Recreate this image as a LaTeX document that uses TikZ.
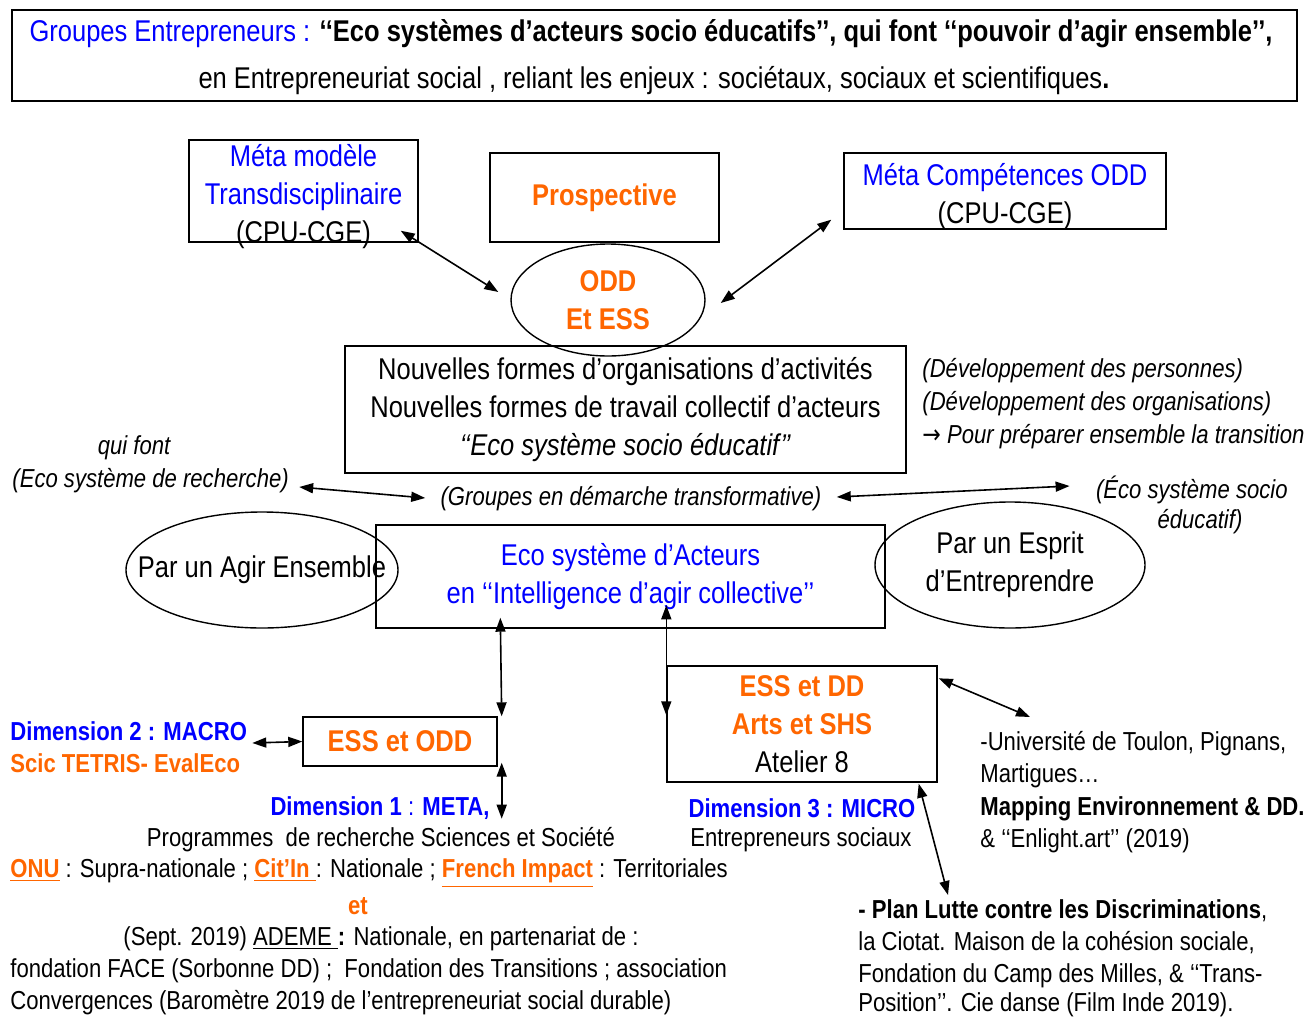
\documentclass[tikz,border=0pt]{standalone}
\usepackage{fontspec}
\setmainfont{Liberation Sans}[FakeStretch=0.85]
\newfontfamily\flechefont{DejaVu Sans}[FakeStretch=0.85]
\usetikzlibrary{arrows.meta,shapes.geometric}
\definecolor{odorange}{RGB}{255,102,0}
\definecolor{odblue}{RGB}{0,0,255}
\newcommand\grand{\fontsize{15}{19}\selectfont}
\newcommand\moyen{\fontsize{13}{16.5}\selectfont}
\newcommand\orng[1]{\textcolor{odorange}{\bfseries #1}}
\begin{document}
\begin{tikzpicture}[x=0.5pt,y=-0.5pt,
  cadre/.style={draw,line width=0.7pt,inner sep=0pt,align=center,font=\grand},
  bulle/.style={draw,ellipse,line width=0.7pt,inner sep=0pt,align=center,font=\grand},
  txt/.style={inner sep=0pt,font=\moyen},
  lien/.style={line width=0.8pt,{Triangle[length=7pt,width=5pt]}-{Triangle[length=7pt,width=5pt]}}]
\useasboundingbox (0,0) rectangle (1306,1017);

% titre
\node[cadre,minimum width=642.5pt,minimum height=45.5pt] (titre) at (654.5,55.5) {};
\node[txt,font=\fontsize{15}{20}\selectfont] (titre1) at (651,34)
  {\textcolor{odblue}{Groupes Entrepreneurs : }\textbf{‘‘Eco systèmes d’acteurs socio éducatifs’’, qui font ‘‘pouvoir d’agir ensemble’’,}};
\node[txt,font=\fontsize{15}{20}\selectfont] (titre2) at (654,81)
  {en Entrepreneuriat social , reliant les enjeux : sociétaux, sociaux et scientifiques\textbf{.}};

% haut
\node[cadre,minimum width=114.5pt,minimum height=51pt] (meta) at (303.5,191) {};
\node[inner sep=0pt,align=center,font=\grand] (metatxt) at (303.5,196.5)
  {\textcolor{odblue}{Méta modèle}\\\textcolor{odblue}{Transdisciplinaire}\\(CPU-CGE)};
\node[cadre,minimum width=114.5pt,minimum height=44.5pt] (prosp) at (604.5,197.5)
  {\orng{Prospective}};
\node[cadre,minimum width=161pt,minimum height=38pt] (compet) at (1005,191) {};
\node[inner sep=0pt,align=center,font=\grand] (compettxt) at (1005,196.5)
  {\textcolor{odblue}{Méta Compétences ODD}\\(CPU-CGE)};
\node[bulle,minimum width=97pt,minimum height=56pt] (odd) at (608,300)
  {\orng{ODD}\\\orng{Et ESS}};
\node[cadre,minimum width=280.5pt,minimum height=63.5pt] (formes) at (625.5,409.5)
  {Nouvelles formes d’organisations d’activités\\Nouvelles formes de travail collectif d’acteurs\\\textit{‘‘Eco système socio éducatif’’}};

\node[txt,anchor=west] (perso) at (922,371) {\itshape (Développement des personnes)};
\node[txt,anchor=west] (orga) at (922,404) {\itshape (Développement des organisations)};
\node[txt,anchor=west] (trans) at (922,437) {\itshape{\flechefont →} Pour préparer ensemble la transition};

\node[txt] (quifont) at (134,448) {\itshape qui font};
\node[txt,anchor=west] (recherche) at (12,481) {\itshape (Eco système de recherche)};
\node[txt] (groupes) at (631,499) {\itshape (Groupes en démarche transformative)};
\node[txt,anchor=east] (socio) at (1288,490) {\itshape (Éco système socio};
\node[txt] (socio2) at (1200,522) {\itshape éducatif)};

% milieu
\node[cadre,minimum width=254.5pt,minimum height=51.5pt] (eco) at (630.5,576.5)
  {\textcolor{odblue}{Eco système d’Acteurs}\\\textcolor{odblue}{en ‘‘Intelligence d’agir collective’’}};
\node[bulle,minimum width=136pt,minimum height=58pt] (agir) at (262,570) {};
\node[inner sep=0pt,font=\grand] (agirtxt) at (agir.center) {Par un Agir Ensemble};
\node[bulle,minimum width=135pt,minimum height=63pt] (esprit) at (1010,565)
  {Par un Esprit\\d’Entreprendre};

% bas
\node[cadre,minimum width=97pt,minimum height=24.5pt] (essodd) at (400,741.5)
  {\orng{ESS et ODD}};
\node[cadre,minimum width=135pt,minimum height=58pt] (essdd) at (802,724)
  {\orng{ESS et DD}\\\orng{Arts et SHS}\\Atelier 8};

\node[txt,anchor=west] (dim2) at (10,731) {\textcolor{odblue}{\bfseries Dimension 2 : MACRO}};
\node[txt,anchor=west] (scic) at (10,763) {\orng{Scic TETRIS- EvalEco}};

\node[txt] (dim1) at (380,808) {\textcolor{odblue}{\textbf{Dimension 1} : \textbf{META,}}};
\node[txt] (prog) at (381,840) {Programmes~ de recherche Sciences et Société};
\node[txt,anchor=west] (onu) at (10,873)
  {\textcolor{odorange}{\bfseries\underline{ONU}} : Supra-nationale ; \textcolor{odorange}{\bfseries\underline{Cit’In }}: Nationale ; \textcolor{odorange}{\bfseries\underline{French Impact}} : Territoriales};
\node[txt] (et) at (358,906) {\orng{et}};
\node[txt] (ademe) at (381,939) {(Sept. 2019) \underline{ADEME }\textbf{:} Nationale, en partenariat de :};
\node[txt,anchor=west] (face) at (10,971) {fondation FACE (Sorbonne DD) ;~ Fondation des Transitions ; association};
\node[txt,anchor=west] (conv) at (10,1003) {Convergences (Baromètre 2019 de l’entrepreneuriat social durable)};

\node[txt] (dim3) at (802,808) {\textcolor{odblue}{\bfseries Dimension 3 : MICRO}};
\node[txt] (entr) at (801,840) {Entrepreneurs sociaux};

\node[txt,anchor=west] (toulon) at (980,744) {-Université de Toulon, Pignans,};
\node[txt,anchor=west] (martig) at (980,776) {Martigues…};
\node[txt,anchor=west] (mapping) at (980,809) {\textbf{Mapping Environnement \& DD.}};
\node[txt,anchor=west] (enlight) at (980,841) {\& ‘‘Enlight.art’’ (2019)};

\node[txt,anchor=west] (plan) at (858,911) {\textbf{- Plan Lutte contre les Discriminations},};
\node[txt,anchor=west] (ciotat) at (858,943) {la Ciotat. Maison de la cohésion sociale,};
\node[txt,anchor=west] (milles) at (858,976) {Fondation du Camp des Milles, \& ‘‘Trans-};
\node[txt,anchor=west] (cie) at (858,1005) {Position’’. Cie danse (Film Inde 2019).};

% fleches
\draw[lien] ([shift={(-18,-12)}]meta.south east) -- ([shift={(-12,-8)}]odd.west);
\draw[lien] ([shift={(15,3)}]odd.east) -- ([shift={(-12,-10)}]compet.south west);
\draw[lien] ([shift={(10,6)}]recherche.east) -- ([shift={(-15,-1)}]groupes.west);
\draw[lien] ([shift={(15,-2)}]groupes.east) -- ([shift={(-26,-4)}]socio.west);
\draw[lien] ([shift={(125,-11)}]eco.south west) -- ([shift={(4,0)}]essodd.north east);
\draw[lien] ([shift={(0,-60)}]essdd.north west) -- ([shift={(0,50)}]essdd.north west);
\draw[lien] ([shift={(-50,1.5)}]essodd.west) -- (essodd.west);
\draw[lien] ([shift={(4,-4)}]essodd.south east) -- ([shift={(4,52)}]essodd.south east);
\draw[lien] ([shift={(1,13)}]essdd.north east) -- ([shift={(50,-27)}]toulon.west);
\draw[lien] ([shift={(-19,1)}]essdd.south east) -- ([shift={(90,-16)}]plan.west);
\end{tikzpicture}
\end{document}
